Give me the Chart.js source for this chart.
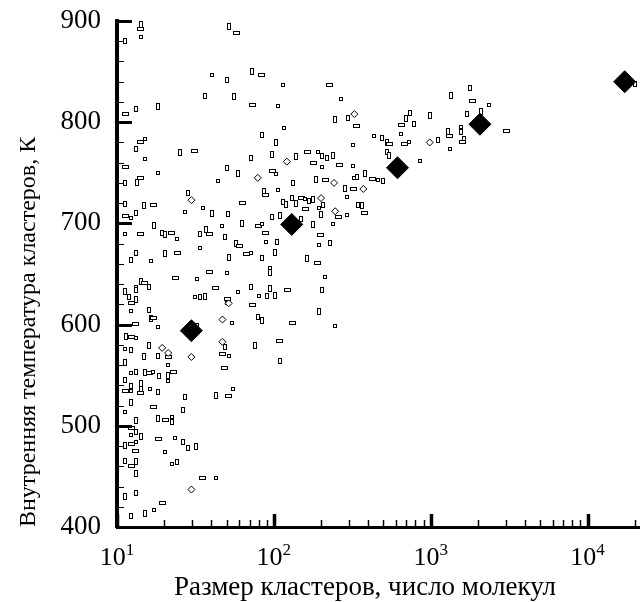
<!DOCTYPE html>
<html>
<head>
<meta charset="utf-8">
<script src="https://cdn.jsdelivr.net/npm/chart.js@4.4.0/dist/chart.umd.min.js"></script>
<style>
  html, body { margin: 0; padding: 0; background: #fff; overflow: hidden; }
  #wrap { width: 640px; height: 602px; }
  canvas { display: block; }
</style>
</head>
<body>
<div id="wrap"><canvas id="chart" width="640" height="602"></canvas></div>
<script>
// individual clusters: size (molecules) and internal temperature (K)
const clusterSize = [
  14.2, 14.2, 14.2, 11.3, 52, 58, 40.6, 50, 73, 83, 114, 36.6, 56, 73, 106, 13.2, 18.3, 11.3, 116, 84,
  103, 14.2, 15, 13.2, 25.3, 31.2, 15, 72, 97, 11.3, 18.3, 50, 59, 98, 103, 11.3, 13.4, 14.2, 43.8, 28.5,
  86, 89, 106, 114, 119, 63, 35.6, 11.3, 14.9, 17, 27.3, 50.7, 40.6, 11.3, 12.3, 13.2, 17.2, 14.2, 11.3, 19.4,
  20.3, 22.2, 24.2, 33.6, 37.2, 38.9, 47, 49, 63, 80, 84, 98, 109, 89, 89, 105, 57, 60.5, 34, 13.2,
  20.3, 24.2, 16.5, 12.3, 51.5, 67, 72, 84, 101, 39, 50, 94, 94, 23.5, 32.6, 16, 14.2, 14.9, 13.2, 13.2,
  11.3, 42.5, 59, 72, 94, 123, 31.6, 33.6, 36.6, 50.7, 50, 11.9, 13.2, 12.3, 80, 90, 101, 73, 12.3, 16,
  16.5, 17.1, 54, 79, 84, 13.2, 18.3, 32.6, 11.4, 12.3, 13.2, 48.5, 76, 109, 11.3, 12.3, 16, 21.2, 21.2, 18.3,
  14.9, 47, 51.5, 109, 11.3, 48.5, 12.3, 13.2, 15, 16, 17, 18.6, 21, 23, 21.2, 11.3, 14.2, 11.3, 12.3, 12.3,
  14.2, 14.2, 16.3, 18.3, 43, 51.5, 55, 27.3, 12.3, 17.2, 11.3, 26.5, 18.3, 20.3, 22.4, 22.4, 13.2, 12.3, 12.3, 13.2,
  14.2, 18.3, 23.5, 26.5, 11.3, 12.3, 13.2, 28.5, 32, 13.2, 20.3, 11.3, 13.2, 12.3, 22.4, 24.2, 13.2, 35, 43, 13.2,
  11.3, 19.4, 17.2, 12.3, 15, 228, 268, 298, 246, 335, 437, 492, 530, 545, 320, 733, 692, 652, 643, 778,
  986, 684, 722, 1110, 1285, 1325, 1557, 1557, 1630, 1600, 1325, 1780, 1350, 1840, 2350, 1700, 2100, 3030, 850, 530,
  545, 163, 191, 203, 138, 178, 203, 218, 240, 264, 320, 132, 186, 215, 326, 340, 383, 425, 464, 500,
  285, 320, 292, 130, 138, 151, 158, 168, 178, 158, 194, 207, 200, 260, 292, 345, 367, 377, 240, 149,
  178, 197, 194, 228, 163, 191, 212, 203, 194, 132, 246, 20000
];
const clusterTemp = [
  897, 892, 884, 880, 895, 888, 847, 842, 850, 847, 837, 826, 825, 817, 816, 813, 816, 808, 794, 787,
  780, 780, 783, 774, 770, 772, 764, 765, 768, 756, 750, 755, 749, 752, 749, 740, 740, 745, 742, 730,
  732, 728, 733, 721, 719, 720, 715, 719, 718, 718, 711, 709, 710, 707, 705, 710, 698, 690, 690, 691,
  689, 691, 685, 690, 694, 690, 697, 687, 700, 697, 699, 706, 708, 691, 682, 682, 680, 678, 676, 671,
  670, 671, 663, 664, 666, 670, 671, 666, 671, 652, 651, 655, 651, 646, 645, 637, 643, 641, 637, 634,
  633, 636, 632, 637, 636, 634, 627, 627, 628, 625, 621, 627, 625, 621, 628, 628, 629, 619, 613, 614,
  606, 607, 602, 608, 604, 601, 598, 599, 588, 588, 587, 578, 579, 584, 576, 575, 579, 568, 560, 569,
  568, 571, 569, 564, 563, 557, 552, 553, 553, 552, 553, 549, 550, 553, 544, 545, 542, 534, 534, 539,
  536, 532, 536, 533, 530, 529, 536, 528, 523, 519, 514, 516, 507, 506, 509, 504, 505, 498, 491, 494,
  489, 487, 488, 484, 481, 482, 484, 478, 480, 475, 474, 465, 465, 460, 462, 464, 453, 448, 448, 434,
  430, 424, 417, 411, 413, 837, 823, 804, 803, 796, 786, 784, 780, 778, 777, 809, 804, 797, 788, 798,
  807, 778, 780, 782, 791, 786, 795, 790, 783, 780, 774, 834, 826, 821, 817, 808, 811, 791, 762, 771,
  767, 771, 771, 767, 766, 760, 756, 765, 767, 758, 757, 740, 743, 743, 745, 746, 749, 744, 743, 742,
  734, 734, 726, 725, 720, 725, 724, 722, 724, 714, 715, 718, 709, 706, 708, 718, 718, 710, 699, 704,
  699, 689, 679, 681, 665, 661, 647, 634, 613, 602, 599, 838
];
// clusters drawn with small open diamonds
const diamondSize = [121, 79, 29.8, 51.5, 47, 47, 19.4, 21.2, 29.8, 29.8, 326, 242, 372, 200, 246, 986];
const diamondTemp = [761, 745, 723, 621, 605, 583, 577, 572, 568, 437, 808, 740, 734, 725, 712, 780];
// averaged values (large filled diamonds)
const meanSize = [29.8, 130, 614, 2060, 17250];
const meanTemp = [594, 699, 755, 798, 840];

const xDecades = [1, 2, 3, 4];
const yLabels = [400, 500, 600, 700, 800, 900];

const FONT = '"Liberation Serif", "Times New Roman", serif';

function makeBox(w, h) {
  const c = document.createElement('canvas');
  c.width = w;
  c.height = h;
  const g = c.getContext('2d');
  g.fillStyle = '#fff';
  g.fillRect(0, 0, w, h);
  g.strokeStyle = '#000';
  g.lineWidth = 1;
  g.strokeRect(0.5, 0.5, w - 1, h - 1);
  return c;
}
const boxes = [makeBox(4, 7), makeBox(7, 4), makeBox(4, 4), makeBox(4, 6)];

// keep the tiny markers crisp instead of smoothed to grey
const crispMarkers = {
  id: 'crispMarkers',
  beforeDatasetsDraw(chart) { chart.ctx.imageSmoothingEnabled = false; },
  afterDatasetsDraw(chart) { chart.ctx.imageSmoothingEnabled = true; }
};

const axisMarks = {
  id: 'axisMarks',
  afterDraw(chart) {
    const { ctx, chartArea, scales: { x, y } } = chart;
    ctx.save();
    ctx.strokeStyle = '#000';
    // y ticks, pointing into the plot
    for (let v = y.min; v <= y.max; v += 20) {
      const py = Math.round(y.getPixelForValue(v)) + 0.5;
      const major = v % 100 === 0;
      ctx.lineWidth = major ? 3 : 1;
      ctx.beginPath();
      ctx.moveTo(chartArea.left, py);
      ctx.lineTo(chartArea.left + (major ? 15 : 7), py);
      ctx.stroke();
    }
    // x ticks
    for (const d of xDecades) {
      for (let m = 1; m <= 9; m++) {
        const v = m * Math.pow(10, d);
        if (v > x.max) break;
        const px = Math.round(x.getPixelForValue(v)) + 0.5;
        ctx.lineWidth = m === 1 ? 3.5 : 1.5;
        ctx.beginPath();
        ctx.moveTo(px, chartArea.bottom);
        ctx.lineTo(px, chartArea.bottom - (m === 1 ? 13 : 7));
        ctx.stroke();
      }
    }
    // x tick labels 10^n
    ctx.fillStyle = '#000';
    ctx.textBaseline = 'alphabetic';
    ctx.textAlign = 'left';
    for (const d of xDecades) {
      const px = x.getPixelForValue(Math.pow(10, d));
      ctx.font = '26px ' + FONT;
      const wBase = ctx.measureText('10').width;
      ctx.font = '17px ' + FONT;
      const wExp = ctx.measureText(String(d)).width;
      const x0 = px - (wBase + wExp) / 2;
      ctx.font = '26px ' + FONT;
      ctx.fillText('10', x0, 565);
      ctx.font = '17px ' + FONT;
      ctx.fillText(String(d), x0 + wBase, 555);
    }
    // x axis title
    ctx.font = '27px ' + FONT;
    ctx.textAlign = 'center';
    ctx.textBaseline = 'middle';
    ctx.fillText('Размер кластеров, число молекул', 365, 588);
    ctx.restore();
  }
};

new Chart(document.getElementById('chart'), {
  type: 'scatter',
  data: {
    datasets: [
      {
        data: clusterSize.map((s, i) => ({ x: s, y: clusterTemp[i] })),
        pointStyle: (c) => boxes[c.dataIndex % boxes.length],
        order: 2
      },
      {
        data: diamondSize.map((s, i) => ({ x: s, y: diamondTemp[i] })),
        pointStyle: 'rectRot',
        radius: 3.5,
        backgroundColor: '#fff',
        borderColor: '#000',
        borderWidth: 1,
        order: 1
      },
      {
        data: meanSize.map((s, i) => ({ x: s, y: meanTemp[i] })),
        pointStyle: 'rectRot',
        radius: 11,
        backgroundColor: '#000',
        borderColor: '#000',
        borderWidth: 1,
        order: 0
      }
    ]
  },
  options: {
    responsive: false,
    devicePixelRatio: 1,
    animation: false,
    layout: {
      autoPadding: false,
      padding: { top: 21, right: 0, bottom: 0, left: 0 }
    },
    plugins: {
      legend: { display: false },
      tooltip: { enabled: false }
    },
    scales: {
      x: {
        type: 'logarithmic',
        min: 10,
        max: 21600,
        grid: { display: false, drawTicks: false },
        border: { display: true, width: 3, color: '#000' },
        ticks: { display: false },
        afterFit(scale) {
          scale.height = 75;
          scale.paddingLeft = 0;
          scale.paddingRight = 0;
        }
      },
      y: {
        min: 400,
        max: 900,
        grid: { display: false, drawTicks: false },
        border: { display: true, width: 4, color: '#000' },
        afterBuildTicks(scale) { scale.ticks = yLabels.map(v => ({ value: v })); },
        ticks: {
          color: '#000',
          padding: 16,
          font: { family: FONT, size: 27 }
        },
        title: {
          display: true,
          text: 'Внутренняя температура кластеров, К',
          align: 'start',
          color: '#000',
          font: { family: FONT, size: 24 },
          padding: { top: 14, bottom: 0 }
        },
        afterFit(scale) {
          scale.width = 117;
          scale.paddingTop = 0;
          scale.paddingBottom = 0;
        }
      }
    }
  },
  plugins: [crispMarkers, axisMarks]
});
</script>
</body>
</html>
